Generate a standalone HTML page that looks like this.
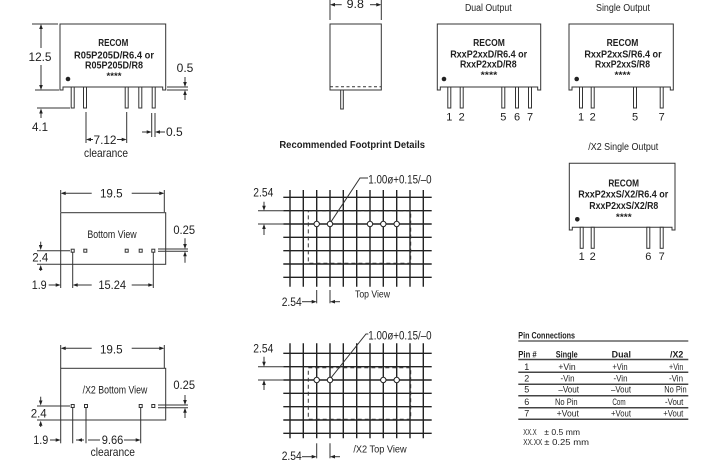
<!DOCTYPE html>
<html><head><meta charset="utf-8"><style>
html,body{margin:0;padding:0;background:#fff;}
svg{display:block}
text{font-family:"Liberation Sans",sans-serif;fill:#1e1e1e;}
.b{font-weight:bold}
</style></head><body>
<svg width="707" height="464" viewBox="0 0 707 464" xmlns="http://www.w3.org/2000/svg">
<g stroke="#333" stroke-width="1" fill="none">
<!-- Top-left module -->
<path d="M60 24 H165.7 V90 H162.7 V87 H63 V90 H60 Z"/>
<rect x="71.2" y="87" width="3" height="21" fill="#fff"/>
<rect x="83.5" y="87" width="3" height="21" fill="#fff"/>
<rect x="125.2" y="87" width="3" height="21" fill="#fff"/>
<rect x="138.8" y="87" width="3" height="21" fill="#fff"/>
<rect x="152.2" y="87" width="3" height="21" fill="#fff"/>
<!-- 12.5 -->
<line x1="32" y1="24" x2="58" y2="24"/>
<line x1="35" y1="90" x2="59" y2="90"/>
<line x1="41" y1="26" x2="41" y2="48"/>
<line x1="41" y1="65" x2="41" y2="88"/>
<!-- 4.1 -->
<line x1="37" y1="108" x2="70" y2="108"/>
<line x1="41" y1="110" x2="41" y2="118"/>
<!-- 0.5 right -->
<line x1="167" y1="87" x2="188" y2="87"/>
<line x1="167" y1="90" x2="188" y2="90"/>
<line x1="185" y1="77" x2="185" y2="85"/>
<line x1="185" y1="100" x2="185" y2="92"/>
<!-- 0.5 bottom -->
<line x1="151.7" y1="113" x2="151.7" y2="137"/>
<line x1="155" y1="113" x2="155" y2="137"/>
<line x1="142" y1="132" x2="149" y2="132"/>
<line x1="157" y1="132" x2="165" y2="132"/>
<!-- 7.12 -->
<line x1="86" y1="112" x2="86" y2="143"/>
<line x1="126.7" y1="112" x2="126.7" y2="143"/>
<line x1="88" y1="139.5" x2="93" y2="139.5"/>
<line x1="117" y1="139.5" x2="124.7" y2="139.5"/>

<!-- Side view -->
<rect x="330" y="24" width="51.3" height="66"/>
<line x1="330" y1="86.7" x2="381.3" y2="86.7" stroke-dasharray="3,2.5"/>
<rect x="340.7" y="90" width="2.6" height="19" fill="#fff"/>
<line x1="330" y1="0" x2="330" y2="20"/>
<line x1="381.3" y1="0" x2="381.3" y2="20"/>
<line x1="332" y1="4.7" x2="341.7" y2="4.7"/>
<line x1="370" y1="4.7" x2="379" y2="4.7"/>

<!-- Dual module -->
<path d="M437.3 24 H540.7 V90 H537.7 V87 H440.3 V90 H437.3 Z"/>
<rect x="447.8" y="87" width="3" height="21" fill="#fff"/>
<rect x="460.2" y="87" width="3" height="21" fill="#fff"/>
<rect x="501.8" y="87" width="3" height="21" fill="#fff"/>
<rect x="515.5" y="87" width="3" height="21" fill="#fff"/>
<rect x="528.5" y="87" width="3" height="21" fill="#fff"/>
<!-- Single module -->
<path d="M569 24 H673.3 V90 H670.3 V87 H572 V90 H569 Z"/>
<rect x="579.5" y="87" width="3" height="21" fill="#fff"/>
<rect x="591.2" y="87" width="3" height="21" fill="#fff"/>
<rect x="633.5" y="87" width="3" height="21" fill="#fff"/>
<rect x="660.2" y="87" width="3" height="21" fill="#fff"/>
<!-- X2 single module -->
<path d="M569.3 163.3 H675 V230 H672 V227.3 H572.3 V230 H569.3 Z"/>
<rect x="580.2" y="227.3" width="3" height="21" fill="#fff"/>
<rect x="591.2" y="227.3" width="3" height="21" fill="#fff"/>
<rect x="646.8" y="227.3" width="3" height="21" fill="#fff"/>
<rect x="660.2" y="227.3" width="3" height="21" fill="#fff"/>

<!-- Bottom view -->
<line x1="60.7" y1="190" x2="60.7" y2="212"/>
<line x1="164.3" y1="190" x2="164.3" y2="212"/>
<line x1="62.7" y1="193.3" x2="91.7" y2="193.3"/>
<line x1="131.7" y1="193.3" x2="162.3" y2="193.3"/>
<rect x="60.7" y="212.7" width="105" height="51.6"/>
<rect x="71.2" y="249.2" width="3" height="3" fill="#fff"/>
<rect x="83.8" y="249.2" width="3" height="3" fill="#fff"/>
<rect x="125.2" y="249.2" width="3" height="3" fill="#fff"/>
<rect x="139.2" y="249.2" width="3" height="3" fill="#fff"/>
<rect x="151.8" y="249.2" width="3" height="3" fill="#fff"/>
<line x1="37" y1="250.7" x2="70" y2="250.7"/>
<line x1="37" y1="264.3" x2="60.7" y2="264.3"/>
<line x1="40.7" y1="241.7" x2="40.7" y2="247.5"/>
<line x1="40.7" y1="267.5" x2="40.7" y2="271"/>
<line x1="158" y1="249" x2="188" y2="249"/>
<line x1="158" y1="251.3" x2="188" y2="251.3"/>
<line x1="185" y1="238.3" x2="185" y2="247"/>
<line x1="185" y1="262.7" x2="185" y2="253.3"/>
<line x1="48.7" y1="285" x2="58.7" y2="285"/>
<line x1="60.7" y1="264.3" x2="60.7" y2="288"/>
<line x1="72.7" y1="252.5" x2="72.7" y2="288"/>
<line x1="153.3" y1="252.5" x2="153.3" y2="288"/>
<line x1="74.7" y1="285" x2="91.7" y2="285"/>
<line x1="131.7" y1="285" x2="151.3" y2="285"/>

<!-- X2 bottom view -->
<line x1="60.7" y1="345" x2="60.7" y2="368"/>
<line x1="164.3" y1="345" x2="164.3" y2="368"/>
<line x1="62.7" y1="348.3" x2="91.7" y2="348.3"/>
<line x1="131.7" y1="348.3" x2="162.3" y2="348.3"/>
<rect x="60.7" y="368.3" width="105" height="51.7"/>
<rect x="71.2" y="404.5" width="3" height="3" fill="#fff"/>
<rect x="84.5" y="404.5" width="3" height="3" fill="#fff"/>
<rect x="139.2" y="404.5" width="3" height="3" fill="#fff"/>
<rect x="151.8" y="404.5" width="3" height="3" fill="#fff"/>
<line x1="37" y1="406" x2="70" y2="406"/>
<line x1="37" y1="420" x2="60.7" y2="420"/>
<line x1="40.7" y1="396.7" x2="40.7" y2="403"/>
<line x1="40.7" y1="423" x2="40.7" y2="427"/>
<line x1="158" y1="405" x2="188" y2="405"/>
<line x1="158" y1="407.7" x2="188" y2="407.7"/>
<line x1="185" y1="395" x2="185" y2="403"/>
<line x1="185" y1="418" x2="185" y2="409.7"/>
<line x1="50" y1="440" x2="58.7" y2="440"/>
<line x1="60.7" y1="420" x2="60.7" y2="443.3"/>
<line x1="72.7" y1="408" x2="72.7" y2="443.3"/>
<line x1="86" y1="408" x2="86" y2="443.3"/>
<line x1="140.7" y1="408" x2="140.7" y2="443.3"/>
<line x1="76" y1="440" x2="84" y2="440"/>
<line x1="88" y1="440" x2="100" y2="440"/>
<line x1="124" y1="440" x2="138.7" y2="440"/>
</g>

<!-- Footprint grids -->
<g stroke="#222" stroke-width="1.4" fill="none">
<path d="M290 190V286.7M303.3 190V286.7M316.7 190V286.7M330 190V286.7M343.3 190V286.7M356.7 190V286.7M370 190V286.7M383.3 190V286.7M396.7 190V286.7M410 190V286.7M423.3 190V286.7"/>
<path d="M283.3 197.3H431.7M283.3 210.7H431.7M283.3 224H431.7M283.3 237.3H431.7M283.3 250.7H431.7M283.3 264H431.7M283.3 277.3H431.7"/>
<path d="M290 343.3V438.3M303.3 343.3V438.3M316.7 343.3V438.3M330 343.3V438.3M343.3 343.3V438.3M356.7 343.3V438.3M370 343.3V438.3M383.3 343.3V438.3M396.7 343.3V438.3M410 343.3V438.3M423.3 343.3V438.3"/>
<path d="M283.3 353.3H431.7M283.3 366.7H431.7M283.3 380H431.7M283.3 393.3H431.7M283.3 406.7H431.7M283.3 420H431.7M283.3 433.3H431.7"/>
</g>
<g stroke="#333" stroke-width="1" fill="none">
<rect x="308.3" y="211" width="102.4" height="52.3" stroke-dasharray="4,3"/>
<rect x="308.3" y="367.7" width="102.4" height="51.6" stroke-dasharray="4,3"/>
<polyline points="331,221.8 360,178 368,178"/>
<polyline points="331,377.8 366,334 368.3,334"/>
<!-- fp1 dims -->
<line x1="264" y1="201.7" x2="264" y2="208.7"/>
<line x1="258" y1="210.7" x2="283.3" y2="210.7"/>
<line x1="258" y1="224" x2="283.3" y2="224"/>
<line x1="264" y1="227" x2="264" y2="235"/>
<line x1="316.7" y1="290" x2="316.7" y2="303.3"/>
<line x1="330" y1="290" x2="330" y2="303.3"/>
<line x1="302" y1="301.7" x2="314.7" y2="301.7"/>
<line x1="332" y1="301.7" x2="340" y2="301.7"/>
<!-- fp2 dims -->
<line x1="264" y1="356.7" x2="264" y2="364.7"/>
<line x1="258" y1="366.7" x2="283.3" y2="366.7"/>
<line x1="258" y1="380" x2="283.3" y2="380"/>
<line x1="264" y1="383" x2="264" y2="390"/>
<line x1="316.7" y1="443.3" x2="316.7" y2="458.3"/>
<line x1="330" y1="443.3" x2="330" y2="458.3"/>
<line x1="302" y1="456.7" x2="314.7" y2="456.7"/>
<line x1="332" y1="456.7" x2="340" y2="456.7"/>
</g>
<g stroke="#222" stroke-width="1" fill="#fff">
<circle cx="316.7" cy="224" r="2.7"/><circle cx="330" cy="224" r="2.7"/><circle cx="370" cy="224" r="2.7"/><circle cx="383.3" cy="224" r="2.7"/><circle cx="396.7" cy="224" r="2.7"/>
<circle cx="316.7" cy="380" r="2.7"/><circle cx="330" cy="380" r="2.7"/><circle cx="383.3" cy="380" r="2.7"/><circle cx="396.7" cy="380" r="2.7"/>
</g>

<!-- arrowheads -->
<g fill="#222" stroke="none">
<polygon points="41,24 39.2,29 42.8,29"/>
<polygon points="41,90 39.2,85 42.8,85"/>
<polygon points="41,108.5 39.2,113.5 42.8,113.5"/>
<polygon points="185,87 183.2,82 186.8,82"/>
<polygon points="185,90 183.2,95 186.8,95"/>
<polygon points="151.7,132 146.7,130.2 146.7,133.8"/>
<polygon points="155,132 160,130.2 160,133.8"/>
<polygon points="86,139.5 91,137.7 91,141.3"/>
<polygon points="126.7,139.5 121.7,137.7 121.7,141.3"/>
<polygon points="330,4.7 335,2.9 335,6.5"/>
<polygon points="381.3,4.7 376.3,2.9 376.3,6.5"/>
<polygon points="60.7,193.3 65.7,191.5 65.7,195.1"/>
<polygon points="164.3,193.3 159.3,191.5 159.3,195.1"/>
<polygon points="40.7,250 38.9,245 42.5,245"/>
<polygon points="40.7,265 38.9,270 42.5,270"/>
<polygon points="185,249 183.2,244 186.8,244"/>
<polygon points="185,251.3 183.2,256.3 186.8,256.3"/>
<polygon points="60.7,285 55.7,283.2 55.7,286.8"/>
<polygon points="72.7,285 77.7,283.2 77.7,286.8"/>
<polygon points="153.3,285 148.3,283.2 148.3,286.8"/>
<polygon points="60.7,348.3 65.7,346.5 65.7,350.1"/>
<polygon points="164.3,348.3 159.3,346.5 159.3,350.1"/>
<polygon points="40.7,405.5 38.9,400.5 42.5,400.5"/>
<polygon points="40.7,420.7 38.9,425.7 42.5,425.7"/>
<polygon points="185,405 183.2,400 186.8,400"/>
<polygon points="185,407.7 183.2,412.7 186.8,412.7"/>
<polygon points="60.7,440 55.7,438.2 55.7,441.8"/>
<polygon points="77,440 82,438.2 82,441.8"/>
<polygon points="140.7,440 135.7,438.2 135.7,441.8"/>
<polygon points="264,210.7 262.2,205.7 265.8,205.7"/>
<polygon points="264,224 262.2,229 265.8,229"/>
<polygon points="316.7,301.7 311.7,299.9 311.7,303.5"/>
<polygon points="330,301.7 335,299.9 335,303.5"/>
<polygon points="264,366.7 262.2,361.7 265.8,361.7"/>
<polygon points="264,380 262.2,385 265.8,385"/>
<polygon points="316.7,456.7 311.7,454.9 311.7,458.5"/>
<polygon points="330,456.7 335,454.9 335,458.5"/>
<circle cx="68" cy="79" r="2.3"/>
<circle cx="444" cy="79" r="2.3"/>
<circle cx="576.7" cy="79" r="2.3"/>
<circle cx="577.3" cy="219.3" r="2.3"/>
</g>

<!-- Table lines -->
<g stroke="#444" fill="none">
<line x1="518.3" y1="341" x2="688.3" y2="341" stroke-width="1.2"/>
<line x1="518.3" y1="359.5" x2="688.3" y2="359.5" stroke-width="1.5"/>
<line x1="518.3" y1="372.3" x2="688.3" y2="372.3" stroke-width="1.5"/>
<line x1="518.3" y1="384.3" x2="688.3" y2="384.3" stroke-width="1.5"/>
<line x1="518.3" y1="395.7" x2="688.3" y2="395.7" stroke-width="1.5"/>
<line x1="518.3" y1="407.7" x2="688.3" y2="407.7" stroke-width="1.5"/>
<line x1="518.3" y1="419.3" x2="688.3" y2="419.3" stroke-width="1.5"/>
</g>

<!-- TEXT -->
<g>
<text class="b" x="113.3" y="46" font-size="10.5" text-anchor="middle" textLength="30" lengthAdjust="spacingAndGlyphs">RECOM</text>
<text class="b" x="114" y="58.3" font-size="10.5" text-anchor="middle" textLength="80" lengthAdjust="spacingAndGlyphs">R05P205D/R6.4 or</text>
<text class="b" x="114" y="68.3" font-size="10.5" text-anchor="middle" textLength="58" lengthAdjust="spacingAndGlyphs">R05P205D/R8</text>
<text class="b" x="114" y="79" font-size="9" text-anchor="middle" textLength="15" lengthAdjust="spacingAndGlyphs">****</text>
<text x="40" y="61" font-size="12" text-anchor="middle" textLength="23" lengthAdjust="spacingAndGlyphs">12.5</text>
<text x="40" y="131" font-size="12" text-anchor="middle" textLength="16" lengthAdjust="spacingAndGlyphs">4.1</text>
<text x="185" y="72" font-size="12" text-anchor="middle" textLength="16.7" lengthAdjust="spacingAndGlyphs">0.5</text>
<text x="166" y="136" font-size="12" textLength="16.7" lengthAdjust="spacingAndGlyphs">0.5</text>
<text x="105" y="144" font-size="12" text-anchor="middle" textLength="23" lengthAdjust="spacingAndGlyphs">7.12</text>
<text x="106" y="157" font-size="12" text-anchor="middle" textLength="44" lengthAdjust="spacingAndGlyphs">clearance</text>
<text x="355.3" y="8" font-size="12" text-anchor="middle" textLength="17.3" lengthAdjust="spacingAndGlyphs">9.8</text>
<text x="488.3" y="11" font-size="10" text-anchor="middle" textLength="46.7" lengthAdjust="spacingAndGlyphs">Dual Output</text>
<text class="b" x="489" y="46" font-size="10.5" text-anchor="middle" textLength="31.7" lengthAdjust="spacingAndGlyphs">RECOM</text>
<text class="b" x="488.7" y="57.3" font-size="10.5" text-anchor="middle" textLength="77" lengthAdjust="spacingAndGlyphs">RxxP2xxD/R6.4 or</text>
<text class="b" x="488.3" y="67.7" font-size="10.5" text-anchor="middle" textLength="56.7" lengthAdjust="spacingAndGlyphs">RxxP2xxD/R8</text>
<text class="b" x="489" y="78" font-size="9" text-anchor="middle" textLength="16.7" lengthAdjust="spacingAndGlyphs">****</text>
<g font-size="11" text-anchor="middle">
<text x="449.3" y="120.7">1</text><text x="461.7" y="120.7">2</text><text x="503.3" y="120.7">5</text><text x="517" y="120.7">6</text><text x="530" y="120.7">7</text>
<text x="581" y="120.7">1</text><text x="592.7" y="120.7">2</text><text x="635" y="120.7">5</text><text x="661.7" y="120.7">7</text>
<text x="581.7" y="260">1</text><text x="592.7" y="260">2</text><text x="648.3" y="260">6</text><text x="661.7" y="260">7</text>
</g>
<text x="623" y="11" font-size="10" text-anchor="middle" textLength="54" lengthAdjust="spacingAndGlyphs">Single Output</text>
<text class="b" x="622.5" y="46" font-size="10.5" text-anchor="middle" textLength="31.7" lengthAdjust="spacingAndGlyphs">RECOM</text>
<text class="b" x="623" y="57.3" font-size="10.5" text-anchor="middle" textLength="77.3" lengthAdjust="spacingAndGlyphs">RxxP2xxS/R6.4 or</text>
<text class="b" x="622.5" y="67.7" font-size="10.5" text-anchor="middle" textLength="55" lengthAdjust="spacingAndGlyphs">RxxP2xxS/R8</text>
<text class="b" x="622.5" y="78" font-size="9" text-anchor="middle" textLength="16" lengthAdjust="spacingAndGlyphs">****</text>
<text x="623.3" y="150" font-size="10" text-anchor="middle" textLength="70" lengthAdjust="spacingAndGlyphs">/X2 Single Output</text>
<text class="b" x="623.7" y="186.7" font-size="10.5" text-anchor="middle" textLength="30.7" lengthAdjust="spacingAndGlyphs">RECOM</text>
<text class="b" x="623.3" y="197.7" font-size="10.5" text-anchor="middle" textLength="90" lengthAdjust="spacingAndGlyphs">RxxP2xxS/X2/R6.4 or</text>
<text class="b" x="623.8" y="209" font-size="10.5" text-anchor="middle" textLength="69" lengthAdjust="spacingAndGlyphs">RxxP2xxS/X2/R8</text>
<text class="b" x="623.8" y="220" font-size="9" text-anchor="middle" textLength="15.7" lengthAdjust="spacingAndGlyphs">****</text>
<text x="111.3" y="197.7" font-size="12" text-anchor="middle" textLength="22.7" lengthAdjust="spacingAndGlyphs">19.5</text>
<text x="112" y="238" font-size="11" text-anchor="middle" textLength="49.3" lengthAdjust="spacingAndGlyphs">Bottom View</text>
<text x="40.3" y="261.7" font-size="12" text-anchor="middle" textLength="16" lengthAdjust="spacingAndGlyphs">2.4</text>
<text x="184.2" y="234" font-size="12" text-anchor="middle" textLength="21.7" lengthAdjust="spacingAndGlyphs">0.25</text>
<text x="39.2" y="289" font-size="12" text-anchor="middle" textLength="15" lengthAdjust="spacingAndGlyphs">1.9</text>
<text x="112.2" y="289" font-size="12" text-anchor="middle" textLength="27.7" lengthAdjust="spacingAndGlyphs">15.24</text>
<text x="111.3" y="353.3" font-size="12" text-anchor="middle" textLength="22.7" lengthAdjust="spacingAndGlyphs">19.5</text>
<text x="115" y="393.3" font-size="11" text-anchor="middle" textLength="64.7" lengthAdjust="spacingAndGlyphs">/X2 Bottom View</text>
<text x="38.7" y="417.3" font-size="12" text-anchor="middle" textLength="16" lengthAdjust="spacingAndGlyphs">2.4</text>
<text x="184.2" y="389" font-size="12" text-anchor="middle" textLength="21.7" lengthAdjust="spacingAndGlyphs">0.25</text>
<text x="40.8" y="444" font-size="12" text-anchor="middle" textLength="15" lengthAdjust="spacingAndGlyphs">1.9</text>
<text x="112.5" y="444" font-size="12" text-anchor="middle" textLength="21.6" lengthAdjust="spacingAndGlyphs">9.66</text>
<text x="112.8" y="456" font-size="12" text-anchor="middle" textLength="44.3" lengthAdjust="spacingAndGlyphs">clearance</text>
<text class="b" x="352.2" y="148" font-size="10" text-anchor="middle" textLength="145.7" lengthAdjust="spacingAndGlyphs">Recommended Footprint Details</text>
<text x="368.3" y="183.5" font-size="12" textLength="63.3" lengthAdjust="spacingAndGlyphs">1.00ø+0.15/–0</text>
<text x="263.3" y="196.7" font-size="12" text-anchor="middle" textLength="20" lengthAdjust="spacingAndGlyphs">2.54</text>
<text x="291.7" y="306" font-size="12" text-anchor="middle" textLength="20" lengthAdjust="spacingAndGlyphs">2.54</text>
<text x="372.5" y="297.5" font-size="10" text-anchor="middle" textLength="35" lengthAdjust="spacingAndGlyphs">Top View</text>
<text x="368.3" y="339.5" font-size="12" textLength="63.3" lengthAdjust="spacingAndGlyphs">1.00ø+0.15/–0</text>
<text x="263.3" y="352.3" font-size="12" text-anchor="middle" textLength="20" lengthAdjust="spacingAndGlyphs">2.54</text>
<text x="291.7" y="460" font-size="12" text-anchor="middle" textLength="20" lengthAdjust="spacingAndGlyphs">2.54</text>
<text x="380" y="452.5" font-size="10" text-anchor="middle" textLength="53.3" lengthAdjust="spacingAndGlyphs">/X2 Top View</text>
<text class="b" x="518.3" y="338.3" font-size="9.5" textLength="56.7" lengthAdjust="spacingAndGlyphs">Pin Connections</text>
<text class="b" x="518.3" y="357.7" font-size="9.5" textLength="18.4" lengthAdjust="spacingAndGlyphs">Pin #</text>
<text class="b" x="566.7" y="357.7" font-size="9.5" text-anchor="middle" textLength="22" lengthAdjust="spacingAndGlyphs">Single</text>
<text class="b" x="621.3" y="357.7" font-size="9.5" text-anchor="middle" textLength="19.3" lengthAdjust="spacingAndGlyphs">Dual</text>
<text class="b" x="676.7" y="357.7" font-size="9.5" text-anchor="middle" textLength="13.3" lengthAdjust="spacingAndGlyphs">/X2</text>
<g font-size="9" text-anchor="middle">
<text x="526.7" y="370">1</text>
<text x="567" y="370" textLength="17.3" lengthAdjust="spacingAndGlyphs">+Vin</text>
<text x="620" y="370" textLength="15.3" lengthAdjust="spacingAndGlyphs">+Vin</text>
<text x="676.2" y="370" textLength="14.3" lengthAdjust="spacingAndGlyphs">+Vin</text>
<text x="526.7" y="381.7">2</text>
<text x="567.5" y="381.7" textLength="14" lengthAdjust="spacingAndGlyphs">-Vin</text>
<text x="620.5" y="381.7" textLength="14" lengthAdjust="spacingAndGlyphs">-Vin</text>
<text x="676" y="381.7" textLength="14" lengthAdjust="spacingAndGlyphs">-Vin</text>
<text x="526.7" y="392.7">5</text>
<text x="568.7" y="392.7" textLength="20.7" lengthAdjust="spacingAndGlyphs">–Vout</text>
<text x="621" y="392.7" textLength="20" lengthAdjust="spacingAndGlyphs">–Vout</text>
<text x="675.5" y="392.7" textLength="22.4" lengthAdjust="spacingAndGlyphs">No Pin</text>
<text x="526.7" y="405">6</text>
<text x="566.3" y="405" textLength="22.7" lengthAdjust="spacingAndGlyphs">No Pin</text>
<text x="619" y="405" textLength="13.3" lengthAdjust="spacingAndGlyphs">Com</text>
<text x="674.2" y="405" textLength="18.3" lengthAdjust="spacingAndGlyphs">-Vout</text>
<text x="526.7" y="416.7">7</text>
<text x="567.8" y="416.7" textLength="22.3" lengthAdjust="spacingAndGlyphs">+Vout</text>
<text x="621" y="416.7" textLength="20" lengthAdjust="spacingAndGlyphs">+Vout</text>
<text x="673.3" y="416.7" textLength="20" lengthAdjust="spacingAndGlyphs">+Vout</text>
</g>
<text x="523.3" y="435" font-size="8.5" textLength="13.3" lengthAdjust="spacingAndGlyphs">XX.X</text>
<text x="544.3" y="435" font-size="8.5" textLength="35.7" lengthAdjust="spacingAndGlyphs">± 0.5 mm</text>
<text x="523.3" y="445" font-size="8.5" textLength="19" lengthAdjust="spacingAndGlyphs">XX.XX</text>
<text x="544.3" y="445" font-size="8.5" textLength="44.7" lengthAdjust="spacingAndGlyphs">± 0.25 mm</text>
</g>
</svg>
</body></html>
